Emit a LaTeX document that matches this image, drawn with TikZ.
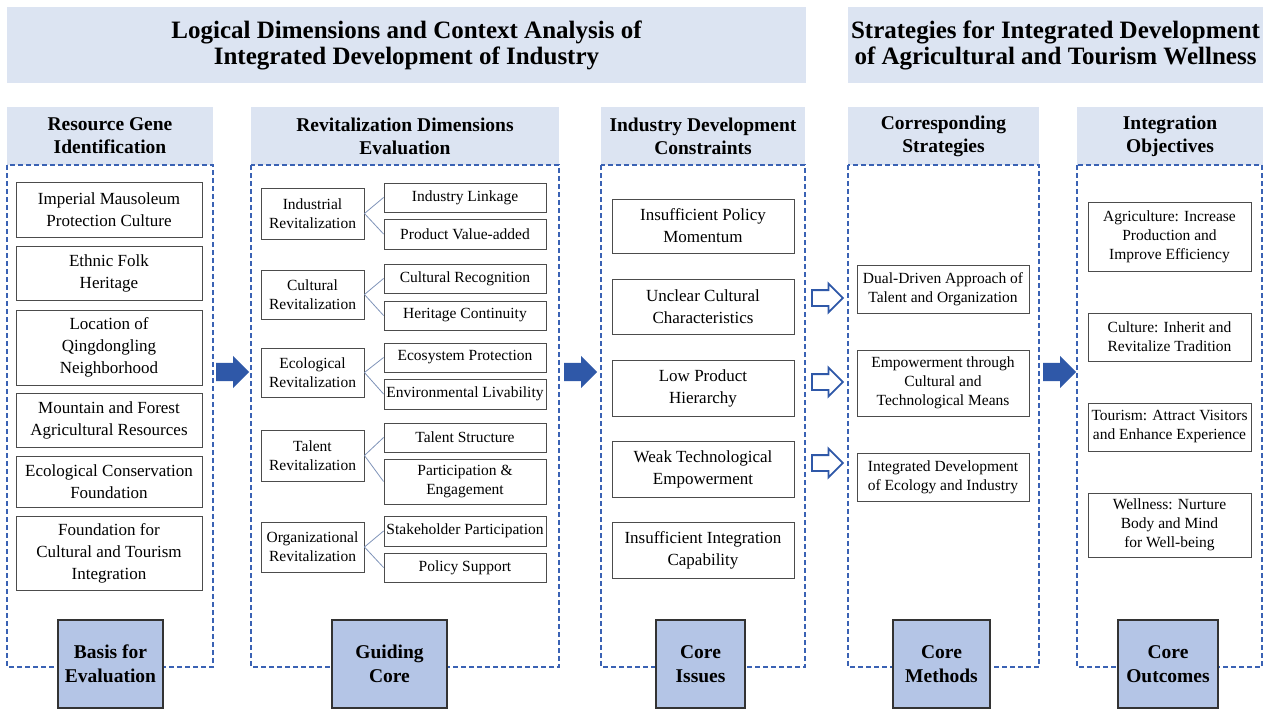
\documentclass[tikz,border=0pt]{standalone}
\usepackage{fontspec}
\setmainfont{Liberation Serif}
\usetikzlibrary{shapes.arrows}

\definecolor{bandblue}{HTML}{DCE4F2}
\definecolor{coreblue}{HTML}{B4C5E6}
\definecolor{dashblue}{HTML}{3A62B4}
\definecolor{arrowblue}{HTML}{2F58A8}
\definecolor{linkgray}{HTML}{7F93B8}

\begin{document}
\begin{tikzpicture}[
  band/.style={fill=bandblue, align=center, font=\bfseries\fontsize{25}{26}\selectfont},
  headbox/.style={fill=bandblue, align=center, minimum height=58pt, font=\bfseries\fontsize{19.5}{23}\selectfont},
  dashframe/.style={draw=dashblue, line width=1.3pt, dash pattern=on 5pt off 3pt},
  corebox/.style={draw=black!80, fill=coreblue, line width=1.2pt, align=center, minimum height=88pt, font=\bfseries\fontsize{19.5}{24}\selectfont},
  itembox/.style={draw=black!70, fill=white, line width=0.9pt, align=center, inner sep=1pt, font=\fontsize{17}{22}\selectfont},
  subbox/.style={itembox, font=\fontsize{15.5}{19}\selectfont},
  link/.style={draw=linkgray, line width=0.8pt},
  fatarrow/.style={single arrow, anchor=tail, fill=arrowblue, inner xsep=0pt, inner ysep=9pt, minimum height=33pt, single arrow head extend=7pt, single arrow head indent=0pt},
  hollowarrow/.style={fatarrow, fill=white, draw=arrowblue, line width=1.8pt, inner ysep=7pt, minimum height=31pt, single arrow head extend=6.5pt}
]
\pgfsetxvec{\pgfpoint{1pt}{0}}
\pgfsetyvec{\pgfpoint{0}{-1pt}}
\useasboundingbox (0,0) rectangle (1263,709);

% banners
\node[band, minimum width=799pt, minimum height=76pt] (title1) at (406.5,45) {Logical Dimensions and Context Analysis of\\Integrated Development of Industry};
\node[band, minimum width=415pt, minimum height=76pt, inner xsep=0pt] (title2) at (1055.5,45) {Strategies for Integrated Development\\of Agricultural and Tourism Wellness};

% column heads
\node[headbox, minimum width=206pt] (h1) at (110,136) {Resource Gene\\Identification};
\node[headbox, minimum width=308pt] (h2) at (405,136) {Revitalization Dimensions\\Evaluation};
\node[headbox, minimum width=204pt] (h3) at (703,136) {Industry Development\\Constraints};
\node[headbox, minimum width=191pt] (h4) at (943.5,136) {Corresponding\\Strategies};
\node[headbox, minimum width=186pt] (h5) at (1170,136) {Integration\\Objectives};

% dashed frames
\draw[dashframe] (7,165) rectangle (213,667);
\draw[dashframe] (251,165) rectangle (559,667);
\draw[dashframe] (601,165) rectangle (805,667);
\draw[dashframe] (848,165) rectangle (1039,667);
\draw[dashframe] (1077,165) rectangle (1262,667);

% column 1
\node[itembox, minimum width=186pt, minimum height=55pt] (g1) at (109,209.5) {Imperial Mausoleum\\Protection Culture};
\node[itembox, minimum width=186pt, minimum height=54pt] (g2) at (109,273) {Ethnic Folk\\Heritage};
\node[itembox, minimum width=186pt, minimum height=75pt] (g3) at (109,347.5) {Location of\\Qingdongling\\Neighborhood};
\node[itembox, minimum width=186pt, minimum height=54pt] (g4) at (109,420) {Mountain and Forest\\Agricultural Resources};
\node[itembox, minimum width=186pt, minimum height=51pt] (g5) at (109,481.5) {Ecological Conservation\\Foundation};
\node[itembox, minimum width=186pt, minimum height=74pt] (g6) at (109,553) {Foundation for\\Cultural and Tourism\\Integration};

% column 2
\node[subbox, minimum width=103pt, minimum height=51pt] (ind) at (312.5,213.5) {Industrial\\Revitalization};
\node[subbox, minimum width=162pt, minimum height=29pt] (ind1) at (465,197.5) {Industry Linkage};
\node[subbox, minimum width=162pt, minimum height=30pt] (ind2) at (465,234) {Product Value-added};
\node[subbox, minimum width=103pt, minimum height=49pt] (cul) at (312.5,294.5) {Cultural\\Revitalization};
\node[subbox, minimum width=162pt, minimum height=29pt] (cul1) at (465,278.5) {Cultural Recognition};
\node[subbox, minimum width=162pt, minimum height=29pt] (cul2) at (465,315.5) {Heritage Continuity};
\node[subbox, minimum width=103pt, minimum height=49pt] (eco) at (312.5,372.5) {Ecological\\Revitalization};
\node[subbox, minimum width=162pt, minimum height=29pt] (eco1) at (465,357.5) {Ecosystem Protection};
\node[subbox, minimum width=162pt, minimum height=30pt] (eco2) at (465,394) {Environmental Livability};
\node[subbox, minimum width=103pt, minimum height=51pt] (tal) at (312.5,455.5) {Talent\\Revitalization};
\node[subbox, minimum width=162pt, minimum height=29pt] (tal1) at (465,437.5) {Talent Structure};
\node[subbox, minimum width=162pt, minimum height=45pt] (tal2) at (465,481.5) {Participation \&\\Engagement};
\node[subbox, minimum width=103pt, minimum height=50pt] (org) at (312.5,547) {Organizational\\Revitalization};
\node[subbox, minimum width=162pt, minimum height=30pt] (org1) at (465,531) {Stakeholder Participation};
\node[subbox, minimum width=162pt, minimum height=29pt] (org2) at (465,567.5) {Policy Support};
\draw[link] (ind.east) -- (ind1.west);
\draw[link] (ind.east) -- (ind2.west);
\draw[link] (cul.east) -- (cul1.west);
\draw[link] (cul.east) -- (cul2.west);
\draw[link] (eco.east) -- (eco1.west);
\draw[link] (eco.east) -- (eco2.west);
\draw[link] (tal.east) -- (tal1.west);
\draw[link] (tal.east) -- (tal2.west);
\draw[link] (org.east) -- (org1.west);
\draw[link] (org.east) -- (org2.west);

% column 3
\node[itembox, minimum width=182pt, minimum height=54pt] (c1) at (703,226) {Insufficient Policy\\Momentum};
\node[itembox, minimum width=182pt, minimum height=55pt] (c2) at (703,306.5) {Unclear Cultural\\Characteristics};
\node[itembox, minimum width=182pt, minimum height=56pt] (c3) at (703,388) {Low Product\\Hierarchy};
\node[itembox, minimum width=182pt, minimum height=56pt] (c4) at (703,469) {Weak Technological\\Empowerment};
\node[itembox, minimum width=182pt, minimum height=56pt] (c5) at (703,550) {Insufficient Integration\\Capability};

% column 4
\node[subbox, minimum width=172pt, minimum height=48pt] (s1) at (943,289) {Dual-Driven Approach of\\Talent and Organization};
\node[subbox, minimum width=172pt, minimum height=66pt] (s2) at (943,383) {Empowerment through\\Cultural and\\Technological Means};
\node[subbox, minimum width=172pt, minimum height=48pt] (s3) at (943,477) {Integrated Development\\of Ecology and Industry};

% column 5
\node[subbox, minimum width=163pt, minimum height=69pt] (o1) at (1169.5,236.5) {Agriculture: Increase\\Production and\\Improve Efficiency};
\node[subbox, minimum width=163pt, minimum height=48pt] (o2) at (1169.5,337) {Culture: Inherit and\\Revitalize Tradition};
\node[subbox, minimum width=163pt, minimum height=48pt] (o3) at (1169.5,427) {Tourism: Attract Visitors\\and Enhance Experience};
\node[subbox, minimum width=163pt, minimum height=64pt] (o4) at (1169.5,525) {Wellness: Nurture\\Body and Mind\\for Well-being};

% core boxes
\node[corebox, minimum width=105pt] (b1) at (110.5,664) {Basis for\\Evaluation};
\node[corebox, minimum width=115pt] (b2) at (389.5,664) {Guiding\\Core};
\node[corebox, minimum width=89pt] (b3) at (700.5,664) {Core\\Issues};
\node[corebox, minimum width=97pt] (b4) at (941.5,664) {Core\\Methods};
\node[corebox, minimum width=100pt] (b5) at (1168,664) {Core\\Outcomes};

% arrows
\node[fatarrow] (a1) at (216,372) {};
\node[fatarrow] (a2) at (564,372) {};
\node[fatarrow] (a3) at (1043,372) {};
\node[hollowarrow] (a4) at (811,298) {};
\node[hollowarrow] (a5) at (811,382) {};
\node[hollowarrow] (a6) at (811,463) {};
\end{tikzpicture}
\end{document}
